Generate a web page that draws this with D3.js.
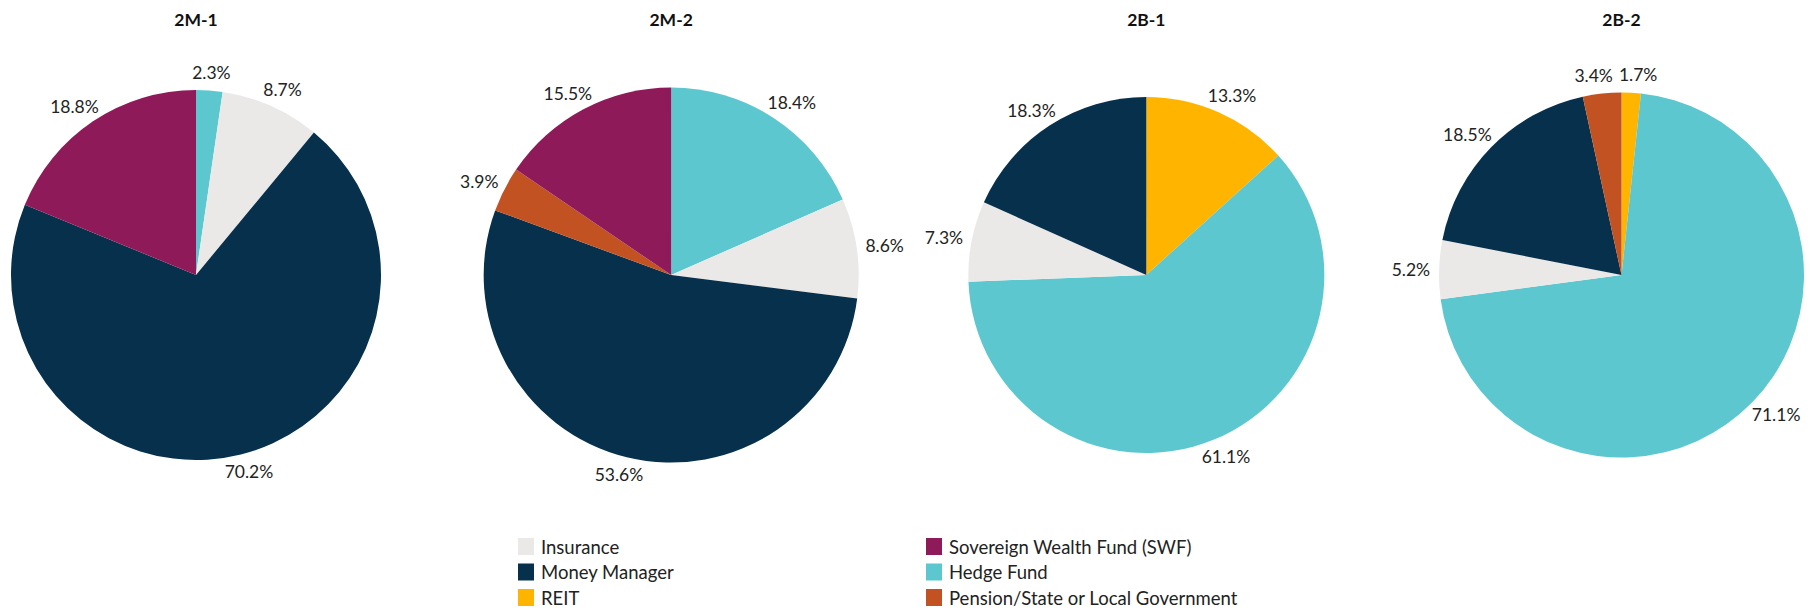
<!DOCTYPE html>
<html lang="en">
<head>
<meta charset="utf-8">
<script src="https://d3js.org/d3.v7.min.js"></script>
<style>
  body { margin: 0; background: #fff; }
  text { font-family: Lato, "Noto Sans", sans-serif; }
</style>
</head>
<body>
<script>
// chart data
const charts = ["2M-1", "2M-2", "2B-1", "2B-2"];
const categories = ["REIT", "Hedge Fund", "Insurance", "Money Manager",
                    "Pension/State or Local Government", "Sovereign Wealth Fund (SWF)"];
// values per chart, in category order (0 = not present)
const share2M1 = [0, 2.3, 8.7, 70.2, 0, 18.8];
const share2M2 = [0, 18.4, 8.6, 53.6, 3.9, 15.5];
const share2B1 = [13.3, 61.1, 7.3, 18.3, 0, 0];
const share2B2 = [1.7, 71.1, 5.2, 18.5, 3.4, 0];
const legendOrder = ["Insurance", "Money Manager", "REIT",
                     "Sovereign Wealth Fund (SWF)", "Hedge Fund", "Pension/State or Local Government"];
const palette = ["#FFB500", "#5DC7D0", "#EBE9E7", "#06304C", "#C35222", "#8F1A59"];

const W = 1818, H = 610;
const radii = [185, 187.5, 178, 182.5];
const cy = 275;
const labelSize = 17.5;

const svg = d3.select("body").append("svg")
  .attr("width", W).attr("height", H);

const color = d3.scaleOrdinal().domain(categories).range(palette);
const xPos = d3.scalePoint().domain(charts).range([196, 1621.5]);

const pie = d3.pie().sort(null).value(d => d.v);
const allShares = [share2M1, share2M2, share2B1, share2B2];

// measure helper for label placement
const measure = svg.append("text").attr("font-size", labelSize).attr("visibility", "hidden");
function textWidth(s) { measure.text(s); return measure.node().getComputedTextLength(); }

charts.forEach((name, i) => {
  const r = radii[i];
  const g = svg.append("g").attr("transform", `translate(${xPos(name)},${cy})`);
  const rows = categories.map((c, k) => ({ c: c, v: allShares[i][k] })).filter(d => d.v > 0);
  const arcs = pie(rows);
  const arc = d3.arc().innerRadius(0).outerRadius(r);

  g.selectAll("path").data(arcs).join("path")
    .attr("d", arc)
    .attr("fill", d => color(d.data.c));

  const labels = arcs.map(a => {
    const t = (a.startAngle + a.endAngle) / 2;
    const s = Math.sin(t), c = -Math.cos(t);
    const text = d3.format(".1f")(a.data.v) + "%";
    const w = textWidth(text), h = 18;
    return { text, w, h,
      x: (r + 9) * s + s * w / 2,
      y: (r + 9) * c + c * h / 2 };
  });

  // push apart overlapping labels sideways
  for (let it = 0; it < 20; it++) {
    for (let a = 0; a < labels.length; a++) {
      for (let b = a + 1; b < labels.length; b++) {
        const A = labels[a], B = labels[b];
        const ox = (A.w + B.w) / 2 + 6 - Math.abs(A.x - B.x);
        const oy = (A.h + B.h) / 2 - Math.abs(A.y - B.y);
        if (ox > 0 && oy > 0) {
          const dir = A.x < B.x ? -1 : 1;
          A.x += dir * ox / 2;
          B.x -= dir * ox / 2;
        }
      }
    }
  }

  g.selectAll("text.lbl").data(labels).join("text")
    .attr("class", "lbl")
    .attr("x", d => d.x).attr("y", d => d.y)
    .attr("text-anchor", "middle")
    .attr("dominant-baseline", "central")
    .attr("font-size", labelSize)
    .attr("fill", "#222")
    .text(d => d.text);

  svg.append("text")
    .attr("x", xPos(name)).attr("y", 19)
    .attr("text-anchor", "middle")
    .attr("dominant-baseline", "central")
    .attr("font-size", 17.5)
    .attr("font-weight", "bold")
    .attr("fill", "#111")
    .text(name);
});
measure.remove();

// legend
const legCol = d3.scalePoint().domain([0, 1]).range([518, 926]);
const legRow = d3.scalePoint().domain([0, 1, 2]).range([546.5, 597.5]);
const leg = svg.append("g");
legendOrder.forEach((c, k) => {
  const x = legCol(Math.floor(k / 3)), y = legRow(k % 3);
  leg.append("rect")
    .attr("x", x).attr("y", y - 8.5)
    .attr("width", 16).attr("height", 17)
    .attr("fill", color(c));
  leg.append("text")
    .attr("x", x + 23).attr("y", y)
    .attr("dominant-baseline", "central")
    .attr("font-size", 18.5)
    .attr("fill", "#222")
    .text(c);
});
</script>
</body>
</html>
